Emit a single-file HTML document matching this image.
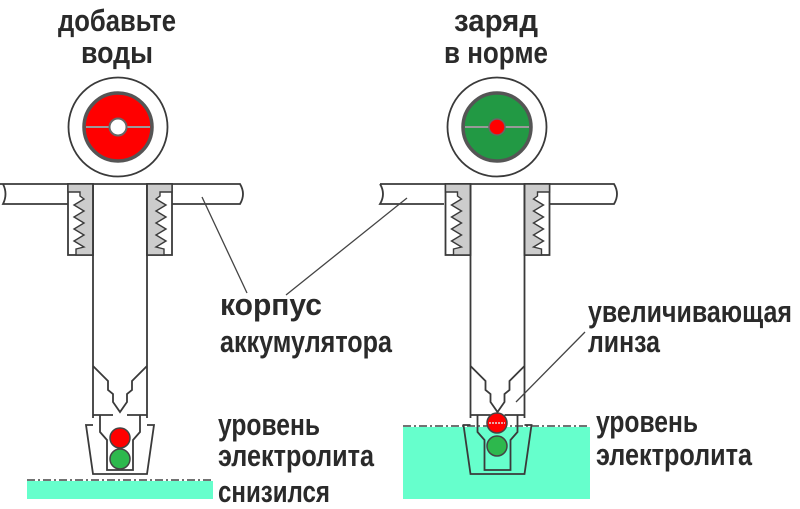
<!DOCTYPE html>
<html><head><meta charset="utf-8"><style>
html,body{margin:0;padding:0;background:#fff;}
svg{display:block;}
text{font-family:"Liberation Sans","DejaVu Sans",sans-serif;font-weight:bold;fill:#2a2a2a;}
</style></head><body>
<svg width="800" height="509" viewBox="0 0 800 509" xmlns="http://www.w3.org/2000/svg">
<defs>
<g id="asm" fill="none" stroke="#3a3a3a" stroke-width="1.8">
  <rect x="-52" y="184" width="25" height="71" fill="#fff"/>
  <rect x="27" y="184" width="25" height="71" fill="#fff"/>
  <path d="M-52 184 H-27 V255 H-44 V249 L-36 247 L-46 241 L-36 235 L-46 229 L-36 223 L-46 217 L-36 211 L-46 205 L-36 199 L-40 196 V192 H-52 Z" fill="#ccc" stroke-width="1.4"/>
  <path d="M52 184 H27 V255 H44 V249 L36 247 L46 241 L36 235 L46 229 L36 223 L46 217 L36 211 L46 205 L36 199 L40 196 V192 H52 Z" fill="#ccc" stroke-width="1.4"/>
  <line x1="-27" y1="184" x2="-27" y2="418"/>
  <line x1="27" y1="184" x2="27" y2="418"/>
  <path d="M-27 366 L-12 381 V390 L-7 394 V402 L0 412 L7 402 V394 L12 390 V381 L27 366"/>
  <line x1="-27" y1="415" x2="-7" y2="415"/><line x1="7" y1="415" x2="27" y2="415"/>
  <path d="M-27 425 H-34 L-27 474 H27 L34 425 H27"/>
  <path d="M-20 415 V432 L-13 440 V470 H13 V440 L20 432 V415"/>
</g>
</defs>

<path d="M0 184 H240 Q246 194 240 204 H0" fill="#fff" stroke="none"/>
<path d="M0 184 H240 Q246 194 240 204 H172 M68 204 H3 Q8 194 3 184" fill="none" stroke="#3a3a3a" stroke-width="1.8"/>
<path d="M380 184 H614 Q620 194 614 204 H380 Q386 194 380 184" fill="#fff" stroke="none"/>
<path d="M380 184 H614 Q620 194 614 204 H550 M444 204 H380 Q386 194 380 184" fill="none" stroke="#3a3a3a" stroke-width="1.8"/>

<rect x="27" y="481" width="186" height="18" fill="#66ffcc"/>
<line x1="27" y1="480" x2="213" y2="480" stroke="#444" stroke-width="1.5" stroke-dasharray="8,3,2,3"/>
<rect x="403" y="427" width="187" height="72" fill="#66ffcc"/>
<line x1="403" y1="426" x2="590" y2="426" stroke="#444" stroke-width="1.5" stroke-dasharray="8,3,2,3"/>

<use href="#asm" x="120" y="0"/>
<use href="#asm" x="497.5" y="0"/>

<circle cx="120" cy="438" r="10" fill="#f00" stroke="#444" stroke-width="1.5"/>
<circle cx="120" cy="459" r="10" fill="#2db84d" stroke="#444" stroke-width="1.5"/>
<circle cx="497" cy="423" r="10" fill="#f00" stroke="#444" stroke-width="1.5"/>
<line x1="489" y1="423" x2="505" y2="423" stroke="#ddd" stroke-width="1.5" stroke-dasharray="2,1"/>
<circle cx="497" cy="446" r="10" fill="#2db84d" stroke="#444" stroke-width="1.5"/>

<circle cx="118" cy="127" r="49.5" fill="#fff" stroke="#3a3a3a" stroke-width="1.8"/>
<circle cx="118" cy="127" r="34" fill="#f00" stroke="#555" stroke-width="3.5"/>
<line x1="86" y1="127" x2="150" y2="127" stroke="#999" stroke-width="2"/>
<circle cx="118" cy="127" r="8.5" fill="#fff" stroke="#666" stroke-width="2"/>

<circle cx="497" cy="127" r="49.5" fill="#fff" stroke="#3a3a3a" stroke-width="1.8"/>
<circle cx="497" cy="127" r="34" fill="#229944" stroke="#555" stroke-width="3.5"/>
<line x1="465" y1="127" x2="529" y2="127" stroke="#999" stroke-width="2"/>
<circle cx="497" cy="127" r="8" fill="#f00" stroke="#666" stroke-width="1.5"/>

<g stroke="#444" stroke-width="1.3">
<line x1="202" y1="197" x2="247" y2="293"/>
<line x1="407" y1="198" x2="286" y2="295"/>
<line x1="585" y1="332" x2="516" y2="402"/>
</g>

<g font-size="31">
<text x="117" y="31" text-anchor="middle" textLength="118" lengthAdjust="spacingAndGlyphs">добавьте</text>
<text x="117" y="63" text-anchor="middle" textLength="72" lengthAdjust="spacingAndGlyphs">воды</text>
<text x="496" y="31" text-anchor="middle" textLength="84" lengthAdjust="spacingAndGlyphs">заряд</text>
<text x="496" y="63" text-anchor="middle" textLength="104" lengthAdjust="spacingAndGlyphs">в норме</text>
<text x="220" y="315" textLength="102" lengthAdjust="spacingAndGlyphs">корпус</text>
<text x="220" y="352" textLength="172" lengthAdjust="spacingAndGlyphs">аккумулятора</text>
<text x="218" y="435" textLength="102" lengthAdjust="spacingAndGlyphs">уровень</text>
<text x="218" y="466" textLength="156" lengthAdjust="spacingAndGlyphs">электролита</text>
<text x="218" y="502" textLength="112" lengthAdjust="spacingAndGlyphs">снизился</text>
<text x="588" y="322" textLength="204" lengthAdjust="spacingAndGlyphs">увеличивающая</text>
<text x="588" y="352" textLength="72" lengthAdjust="spacingAndGlyphs">линза</text>
<text x="596" y="432" textLength="102" lengthAdjust="spacingAndGlyphs">уровень</text>
<text x="596" y="465" textLength="156" lengthAdjust="spacingAndGlyphs">электролита</text>
</g>
</svg>
</body></html>
